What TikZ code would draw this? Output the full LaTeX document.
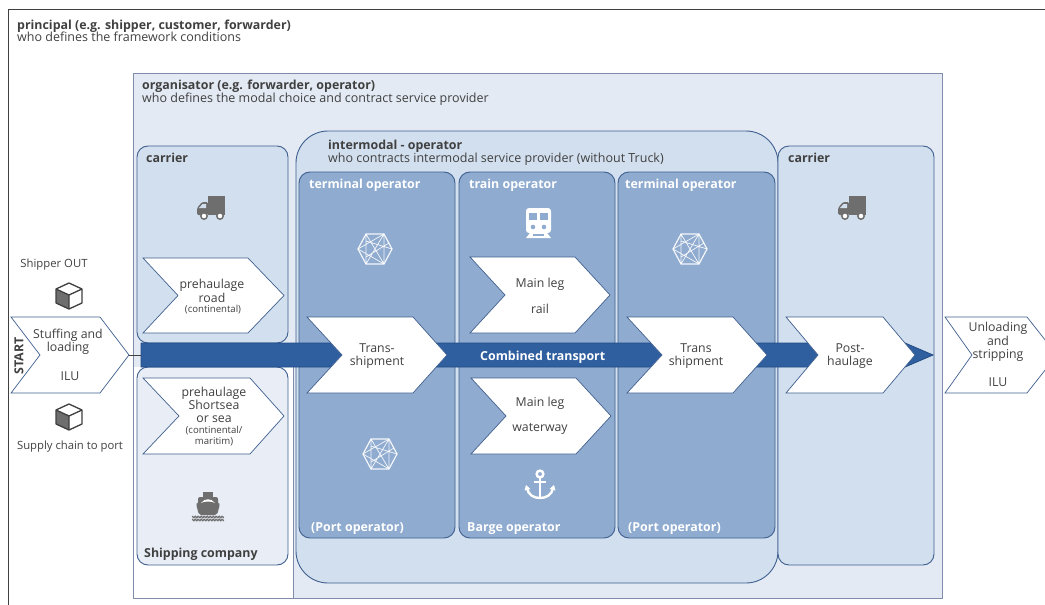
\documentclass[tikz,border=0pt]{standalone}
\usepackage{fontspec}
\setmainfont{Open Sans}
\definecolor{inkGray}{HTML}{404040}
\definecolor{iconGray}{HTML}{6E6E6E}
\definecolor{edgeBlue}{HTML}{3F5F8F}
\definecolor{frameBlue}{HTML}{7F8DAB}
\definecolor{paleBlue}{HTML}{E3EAF4}
\definecolor{softBlue}{HTML}{D2DFEE}
\definecolor{shipBlue}{HTML}{E9EEF6}
\definecolor{midBlue}{HTML}{8FABCF}
\definecolor{bandBlue}{HTML}{2F5F9F}
\definecolor{bandEdge}{HTML}{234C86}
\newcommand{\chevronBox}[7]{%%
  %% name, left, top, notch depth, top right, tip, bottom
  \coordinate (#1tip) at (#6,{(#3+#7)/2});
  \draw[chevronStyle] (#2,#3) -- (#5,#3) -- (#1tip) -- (#5,#7) -- (#2,#7)
    -- ({#2+#4},{(#3+#7)/2}) -- cycle;
}
\newcommand{\truckIcon}[2]{%%
  \begin{scope}[shift={(#1,#2)}]
    \fill[iconGray] (-3,-11) rectangle (14,8);
    \fill[iconGray,rounded corners=1.5pt] (-3,-5) -- (-9,-5) -- (-14,1) -- (-14,8) -- (-3,8) -- cycle;
    \fill[softBlue] (-5,-3) -- (-8.5,-3) -- (-12,1) -- (-5,1) -- cycle;
    \draw[iconGray,fill=white,line width=1.5pt] (-7,9) circle (3.2);
    \draw[iconGray,fill=white,line width=1.5pt] (9,9) circle (3.2);
  \end{scope}
}
\newcommand{\cubeIcon}[2]{%%
  \begin{scope}[shift={(#1,#2)},line join=round]
    \fill[white] (-13,-7) -- (0,-13) -- (13,-7) -- (13,7) -- (0,13) -- (-13,7) -- cycle;
    \fill[iconGray] (-13,-7) -- (0,-1) -- (0,13) -- (-13,7) -- cycle;
    \draw[inkGray,line width=1.3pt] (-13,-7) -- (0,-13) -- (13,-7) -- (13,7) -- (0,13) -- (-13,7) -- cycle;
    \draw[inkGray,line width=1.3pt] (-13,-7) -- (0,-1) -- (13,-7) (0,-1) -- (0,13);
  \end{scope}
}
\newcommand{\hexIcon}[2]{%%
  \begin{scope}[shift={(#1,#2)},white,line width=0.7pt,opacity=0.9]
    \draw[line width=1.2pt] (-17,0) -- (-9,-15) -- (9,-15) -- (17,0) -- (9,15) -- (-9,15) -- cycle;
    \draw (-9,-15) -- (9,15) (9,-15) -- (-9,15) (-17,0) -- (9,-15) (-17,0) -- (9,15)
      (-9,-15) -- (-9,15) (9,-15) -- (9,15) (-9,-8) -- (17,0) (-9,8) -- (14,-6);
  \end{scope}
}
\newcommand{\trainIcon}[2]{%%
  \begin{scope}[shift={(#1,#2)}]
    \fill[white,rounded corners=3pt] (-12,-15) rectangle (13,10);
    \fill[midBlue] (-9,-10) rectangle (-1,-3);
    \fill[midBlue] (2,-10) rectangle (10,-3);
    \fill[midBlue] (-5,4) circle (2.3);
    \fill[midBlue] (6,4) circle (2.3);
    \fill[white] (-8,10) -- (9,10) -- (13,15) -- (-12,15) -- cycle;
    \fill[midBlue] (-5,11) rectangle (6,12.5);
  \end{scope}
}
\newcommand{\anchorIcon}[2]{%%
  \begin{scope}[shift={(#1,#2)},white,line width=2.4pt]
    \draw (0,-11) circle (3.4);
    \draw (0,-7.5) -- (0,13);
    \draw (-6,-3) -- (6,-3);
    \draw (-13,3) .. controls (-12,10) and (-6,13) .. (0,13) .. controls (6,13) and (12,10) .. (13,3);
    \fill (-15.5,5.5) -- (-14,0) -- (-9.5,4) -- cycle;
    \fill (15.5,5.5) -- (14,0) -- (9.5,4) -- cycle;
  \end{scope}
}
\newcommand{\shipIcon}[2]{%%
  \begin{scope}[shift={(#1,#2)}]
    \fill[iconGray] (-5,-15) rectangle (5,-10);
    \fill[iconGray,rounded corners=2pt] (-10,-10) -- (10,-10) -- (10,-3) -- (12,-3) -- (9,8) -- (-9,8) -- (-12,-3) -- (-10,-3) -- cycle;
    \fill[white] (-7,-4) .. controls (-3,-9) and (3,-9) .. (7,-4) .. controls (3,-6) and (-3,-6) .. (-7,-4) -- cycle;
    \foreach \yWave in {10,13}{%%
      \draw[iconGray,line width=1.2pt] plot[domain=-16:16,samples=49,smooth] (\x,{\yWave+0.8*sin(\x*120)});
    }
  \end{scope}
}
\begin{document}
\begin{tikzpicture}[x=1pt,y=-1pt,%%
  chevronStyle/.style={fill=white,draw=edgeBlue,line width=0.7pt,line join=miter},%%
  groupStyle/.style={draw=edgeBlue,line width=0.9pt,rounded corners=11pt},%%
  headStyle/.style={anchor=base west,inner sep=0pt,text=inkGray,font=\fontsize{12.4}{12}\selectfont\bfseries},%%
  subStyle/.style={anchor=base west,inner sep=0pt,text=inkGray,font=\fontsize{12.5}{12}\selectfont},%%
  whiteStyle/.style={anchor=base west,inner sep=0pt,text=white,font=\fontsize{12.4}{12}\selectfont\bfseries},%%
  labelStyle/.style={align=center,inner sep=0pt,text=inkGray,font=\fontsize{12.3}{13.3}\selectfont},%%
  sideStyle/.style={align=center,inner sep=0pt,text=inkGray,font=\fontsize{11.3}{13}\selectfont},%%
  smallStyle/.style={align=center,inner sep=0pt,text=inkGray,font=\fontsize{9.6}{11}\selectfont}
]
\useasboundingbox (0,0) rectangle (1045,605);
\clip (0,0) rectangle (1045,605);
%%
%% The principal frame.
\draw[inkGray,line width=1pt] (8,605) -- (8,9) -- (1045,9);
\node[headStyle] (principal) at (17,29.5) {principal (e.g. shipper, customer, forwarder)};
\node[subStyle] (principalSub) at (17,41.5) {who defines the framework conditions};
%%
%% The organiser frame, white below the band on its left side.
\fill[paleBlue] (133,73) rectangle (942,598);
\fill[white] (134,367) rectangle (293,598);
\draw[frameBlue,line width=1pt] (133,73) rectangle (942,598);
\draw[frameBlue,line width=0.8pt] (293,367) -- (293,598);
\node[headStyle] (organiser) at (142,89) {organisator (e.g. forwarder, operator)};
\node[subStyle] (organiserSub) at (142,102.5) {who defines the modal choice and contract service provider};
%%
%% The carrier and operator boxes.
\draw[groupStyle,fill=softBlue] (137,146) rectangle (288,343);
\draw[groupStyle,fill=shipBlue] (137,367) rectangle (288,565);
\draw[groupStyle,fill=softBlue,rounded corners=32pt] (296,131) rectangle (778,583);
\draw[groupStyle,fill=midBlue] (299,172) rectangle (455,538);
\draw[groupStyle,fill=midBlue] (459,172) rectangle (615,538);
\draw[groupStyle,fill=midBlue] (618,172) rectangle (775,538);
\draw[groupStyle,fill=softBlue] (778,146) rectangle (934,565);
\node[headStyle] (carrierA) at (146,162) {carrier};
\node[headStyle] (shipping) at (144,557) {Shipping company};
\node[headStyle] (intermodal) at (328,149) {intermodal - operator};
\node[subStyle] (intermodalSub) at (328,162) {who contracts intermodal service provider (without Truck)};
\node[whiteStyle] (terminalA) at (309,188) {terminal operator};
\node[whiteStyle] (train) at (469,188) {train operator};
\node[whiteStyle] (terminalB) at (625,188) {terminal operator};
\node[headStyle] (carrierB) at (788,162) {carrier};
\node[whiteStyle] (portA) at (311,531) {(Port operator)};
\node[whiteStyle] (barge) at (467,531) {Barge operator};
\node[whiteStyle] (portB) at (628,531) {(Port operator)};
%%
%% The transport band behind the chevrons.
\coordinate (bandStart) at (141,355);
\draw[fill=bandBlue,draw=bandEdge,line width=0.8pt] (141,343) -- (905,343) -- (933,355) -- (905,367) -- (141,367) -- cycle;
%%
%% The chevrons.
\chevronBox{stuffing}{11}{317}{29}{100}{129}{393}
\chevronBox{roadA}{143}{258}{35}{248}{284}{333}
\chevronBox{seaA}{143}{378}{36}{250}{284}{454}
\chevronBox{transA}{307}{317}{35}{413}{447}{393}
\chevronBox{rail}{470}{257}{35}{575}{610}{333}
\chevronBox{water}{471}{378}{35}{576}{611}{454}
\chevronBox{transB}{627}{317}{35}{733}{767}{393}
\chevronBox{post}{786}{317}{32}{883}{915}{393}
\chevronBox{unload}{945}{317}{27}{1027}{1057}{393}
\draw[inkGray,line width=0.8pt] (stuffingtip) -- (bandStart);
%%
%% The chevron texts.
\node[labelStyle] (stuffingText) at (68,342) {Stuffing and\\loading};
\node[labelStyle] (ilu) at (70,376) {ILU};
\node[anchor=center,inner sep=0pt,rotate=90,text=inkGray,font=\fontsize{12.4}{12}\selectfont\bfseries] (start) at (19,356) {START};
\node[labelStyle] (road) at (212,291) {prehaulage\\road};
\node[smallStyle] (continental) at (213,310) {(continental)};
\node[labelStyle] (sea) at (214,405) {prehaulage\\Shortsea\\or sea};
\node[smallStyle] (maritim) at (214,436) {(continental/\\maritim)};
\node[labelStyle] (transAText) at (377,356) {Trans-\\shipment};
\node[labelStyle] (railText) at (540,296) {Main leg\\[12pt]rail};
\node[labelStyle] (waterText) at (540,416) {Main leg\\[12pt]waterway};
\node[labelStyle] (transBText) at (696,356) {Trans\\shipment};
\node[labelStyle] (postText) at (850,356) {Post-\\haulage};
\node[labelStyle] (unloadText) at (998,342) {Unloading\\and\\stripping};
\node[labelStyle] (iluB) at (998,382) {ILU};
\node[whiteStyle] (combined) at (480,360) {Combined transport};
\node[sideStyle] (shipper) at (54,264.5) {Shipper OUT};
\node[sideStyle] (supply) at (70,447) {Supply chain to port};
%%
%% The icons.
\truckIcon{211}{207}
\truckIcon{852}{207}
\cubeIcon{69}{296}
\cubeIcon{69}{417}
\hexIcon{375}{249}
\hexIcon{380}{454}
\hexIcon{690}{249}
\trainIcon{538}{223}
\anchorIcon{540}{485}
\shipIcon{208}{507}
\end{tikzpicture}
\end{document}
